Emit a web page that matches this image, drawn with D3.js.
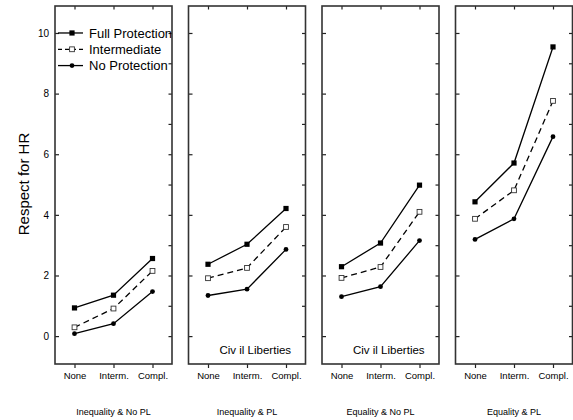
<!DOCTYPE html>
<html>
<head>
<meta charset="utf-8">
<script src="https://cdn.jsdelivr.net/npm/d3@7"></script>
<style>
body { margin:0; background:#fff; }
text { font-family: "Liberation Sans", Arial, sans-serif; fill:#000; }
</style>
</head>
<body>
<div id="container"></div>
<script>
// data
var categories = ["None", "Interm.", "Compl."];
var panelTitles = ["Inequality & No PL", "Inequality & PL", "Equality & No PL", "Equality & PL"];
var seriesNames = ["Full Protection", "Intermediate", "No Protection"];
var fullProtection = [[0.93, 1.35, 2.56], [2.37, 3.03, 4.21], [2.29, 3.07, 4.98], [4.43, 5.71, 9.54]];
var intermediate   = [[0.29, 0.91, 2.15], [1.91, 2.25, 3.60], [1.92, 2.28, 4.10], [3.87, 4.81, 7.76]];
var noProtection   = [[0.08, 0.41, 1.47], [1.34, 1.55, 2.86], [1.30, 1.63, 3.15], [3.19, 3.87, 6.58]];
var yTicks = [0, 2, 4, 6, 8, 10];
var yMinorTicks = [0, 1, 2, 3, 4, 5, 6, 7, 8, 9, 10];
var noteText = "Civ il Liberties";

var W = 573, H = 420;
var plotTop = 6, plotBottom = 364, panelW = 117, firstLeft = 55, panelStep = 133.5;

var svg = d3.select("#container").append("svg")
	.attr("width", W)
	.attr("height", H);

var y = d3.scaleLinear().domain([-0.92, 10.89]).range([plotBottom, plotTop]);
var x = d3.scalePoint().domain(categories).range([0, panelW]).padding(0.5);

var series = [
	{name: seriesNames[0], values: fullProtection, dash: null, marker: "fsquare"},
	{name: seriesNames[1], values: intermediate, dash: "6,4", marker: "osquare"},
	{name: seriesNames[2], values: noProtection, dash: null, marker: "circle"}
];

function drawMarker(g, type, cx, cy) {
	if (type == "circle") {
		g.append("circle").attr("cx", cx).attr("cy", cy).attr("r", 2.4).attr("fill", "#000");
	} else if (type == "fsquare") {
		g.append("rect").attr("x", cx - 2.6).attr("y", cy - 2.6).attr("width", 5.2).attr("height", 5.2).attr("fill", "#000");
	} else {
		g.append("rect").attr("x", cx - 2.4).attr("y", cy - 2.4).attr("width", 4.8).attr("height", 4.8)
			.attr("fill", "#fff").attr("stroke", "#333").attr("stroke-width", 0.9);
	}
}

var line = d3.line().x(function(d, i) { return x(categories[i]); }).y(function(d) { return y(d); });

svg.append("defs").append("clipPath").attr("id", "clip0")
	.append("rect").attr("x", 0).attr("y", plotTop).attr("width", panelW).attr("height", plotBottom - plotTop);

for (var p = 0; p < panelTitles.length; p++) {
	var left = firstLeft + p * panelStep;
	var g = svg.append("g").attr("transform", "translate(" + left + ",0)");

	// left axis, even values, labels only on the first panel
	var la = g.append("g").call(d3.axisLeft(y).tickValues(yTicks).tickSizeInner(-4).tickSizeOuter(0).tickPadding(6)
		.tickFormat(p == 0 ? d3.format("d") : function() { return ""; }));
	la.select(".domain").remove();
	la.selectAll("text").style("font-size", "10px").style("font-family", "Liberation Sans, Arial, sans-serif");
	la.selectAll("line").attr("stroke", "#222").attr("stroke-width", 1.2);

	// right axis, every integer
	var ra = g.append("g").attr("transform", "translate(" + panelW + ",0)")
		.call(d3.axisRight(y).tickValues(yMinorTicks).tickSizeInner(-3.5).tickSizeOuter(0).tickFormat(""));
	ra.select(".domain").remove();
	ra.selectAll("line").attr("stroke", "#222").attr("stroke-width", 1.2);

	// top axis
	var ta = g.append("g").attr("transform", "translate(0," + plotTop + ")")
		.call(d3.axisTop(x).tickSizeInner(-3.5).tickSizeOuter(0).tickFormat(""));
	ta.select(".domain").remove();
	ta.selectAll("line").attr("stroke", "#222").attr("stroke-width", 1.2);

	// bottom axis
	var ba = g.append("g").attr("transform", "translate(0," + plotBottom + ")")
		.call(d3.axisBottom(x).tickSizeInner(4).tickSizeOuter(0).tickPadding(4));
	ba.select(".domain").remove();
	ba.selectAll("text").style("font-size", "9.5px").style("font-family", "Liberation Sans, Arial, sans-serif");
	ba.selectAll("line").attr("stroke", "#222").attr("stroke-width", 1.2);

	// series
	series.forEach(function(s) {
		g.append("path").datum(s.values[p])
			.attr("d", line)
			.attr("fill", "none")
			.attr("stroke", "#000")
			.attr("stroke-width", 1.3)
			.attr("stroke-dasharray", s.dash);
		s.values[p].forEach(function(v, i) {
			drawMarker(g, s.marker, x(categories[i]), y(v));
		});
	});

	// legend in first panel
	if (p == 0) {
		var lg = g.append("g").attr("clip-path", "url(#clip0)");
		series.forEach(function(s, i) {
			var ly = y(10) + i * 16.3;
			lg.append("line").attr("x1", 3).attr("x2", 28).attr("y1", ly).attr("y2", ly)
				.attr("stroke", "#000").attr("stroke-width", 1.3)
				.attr("stroke-dasharray", s.dash ? "4,3" : null);
			drawMarker(lg, s.marker, 17, ly);
			lg.append("text").attr("x", 34).attr("y", ly + 4.6)
				.style("font-size", "13px").text(s.name);
		});
	}

	if (p == 1 || p == 2) {
		g.append("text").attr("x", 31).attr("y", 353.5)
			.style("font-size", "11.5px").text(noteText);
	}

	// border
	g.append("rect").attr("x", 0).attr("y", plotTop).attr("width", panelW).attr("height", plotBottom - plotTop)
		.attr("fill", "none").attr("stroke", "#333").attr("stroke-width", 1.6);

	// panel title
	g.append("text").attr("x", panelW / 2).attr("y", 415)
		.attr("text-anchor", "middle")
		.style("font-size", "9px").text(panelTitles[p]);
}

// y label
svg.append("text")
	.attr("transform", "translate(29,184) rotate(-90)")
	.attr("text-anchor", "middle")
	.style("font-size", "15px")
	.text("Respect for HR");
</script>
</body>
</html>
